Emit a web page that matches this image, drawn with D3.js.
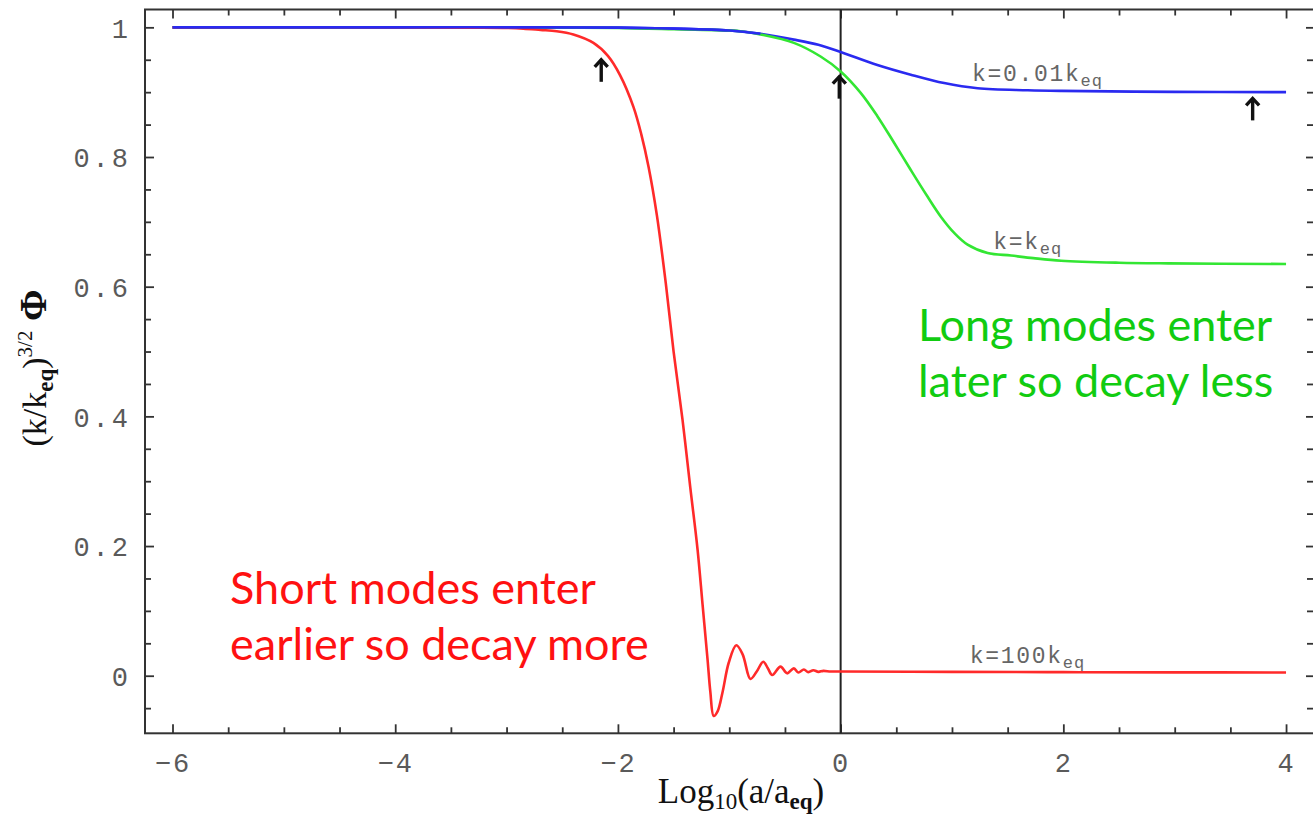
<!DOCTYPE html>
<html>
<head>
<meta charset="utf-8">
<script src="https://cdn.jsdelivr.net/npm/d3@7"></script>
<style>
  html, body { margin: 0; padding: 0; background: #fff; }
  svg { display: block; }
</style>
</head>
<body>
<svg id="chart" width="1313" height="819"></svg>
<script>
// Potential (k/k_eq)^{3/2} Φ versus log10(a/a_eq) for three wavenumbers
const logA_red = [-6, -4, -3.3, -3, -2.85, -2.695, -2.55, -2.40, -2.22, -2.09, -1.98, -1.86, -1.79, -1.725, -1.65, -1.57, -1.50, -1.42, -1.35, -1.285, -1.24, -1.195, -1.17, -1.14, -1.105, -1.06, -1.005, -0.937, -0.88, -0.81, -0.755, -0.695, -0.655, -0.614, -0.54, -0.48, -0.42, -0.38, -0.33, -0.29, -0.245, -0.20, -0.155, -0.09, 0, 1, 2, 3, 4];
const phi_red    = [1, 1, 0.9995, 0.999, 0.998, 0.996, 0.994, 0.989, 0.976, 0.956, 0.926, 0.877, 0.835, 0.785, 0.71, 0.605, 0.50, 0.395, 0.29, 0.195, 0.11, 0.025, -0.025, -0.062, -0.055, -0.025, 0.02, 0.047, 0.033, -0.005, 0.006, 0.0216, 0.012, 0.001, 0.014, 0.0037, 0.0114, 0.005, 0.0095, 0.0055, 0.0085, 0.006, 0.0075, 0.0065, 0.0065, 0.006, 0.0055, 0.0052, 0.005];

const logA_green = [-6, -4, -3, -2, -1.5, -0.9, -0.72, -0.42, -0.18, 0, 0.18, 0.33, 0.48, 0.63, 0.78, 0.90, 1.02, 1.14, 1.32, 1.53, 1.73, 1.98, 2.5, 2.94, 4];
const phi_green  = [1, 1, 1, 0.999, 0.997, 0.994, 0.989, 0.976, 0.955, 0.932, 0.899, 0.863, 0.822, 0.780, 0.739, 0.708, 0.683, 0.665, 0.652, 0.648, 0.644, 0.640, 0.637, 0.636, 0.635];

const logA_blue = [-6, -4, -3, -2, -1.5, -1, -0.72, -0.42, -0.2, 0, 0.33, 0.63, 0.93, 1.23, 1.68, 1.98, 3, 4];
const phi_blue  = [1, 1, 1, 0.9995, 0.998, 0.995, 0.990, 0.981, 0.973, 0.962, 0.942, 0.927, 0.914, 0.906, 0.903, 0.902, 0.9005, 0.900];

// Curve labels (baseline anchors) and horizon-entry markers
const curveLabels = ["k=0.01k", "k=k", "k=100k"];
const curveLabelX = [1.18, 1.37, 1.16];
const curveLabelY = [0.9167, 0.658, 0.020];
const arrowX = [-2.15, -0.012, 3.70];
const arrowY = [0.953, 0.927, 0.8935];

const xMajor = [-6, -4, -2, 0, 2, 4];
const xTickLabels = ["\u22126", "\u22124", "\u22122", "0", "2", "4"];
const yMajor = [0, 0.2, 0.4, 0.6, 0.8, 1];
const yTickLabels = ["0", "0.2", "0.4", "0.6", "0.8", "1"];

const svg = d3.select("#chart");
const plotLeft = 145, plotRight = 1315, plotTop = 9.5, plotBottom = 733.3;

const x = d3.scaleLinear().domain([-6.247, 4.26]).range([plotLeft, plotRight]);
const y = d3.scaleLinear().domain([-0.0888, 1.0275]).range([plotBottom, plotTop]);

const frameColor = "#333";
const tickFont = "'Liberation Mono', 'DejaVu Sans Mono', monospace";

// minor tick positions
const xMinor = d3.range(-6, 4.001, 0.5).filter(v => !xMajor.includes(v));
const yMinor = d3.range(-0.05, 1.0001, 0.05).map(v => +v.toFixed(2)).filter(v => !yMajor.some(m => Math.abs(m - v) < 1e-9));

function styleAxis(g) {
  g.select(".domain").remove();
  g.selectAll(".tick line").attr("stroke", frameColor).attr("stroke-width", 1.8);
}

// bottom axis with labels
const gx = svg.append("g").attr("transform", `translate(0,${plotBottom})`)
  .call(d3.axisBottom(x).tickValues(xMajor).tickSize(-9).tickPadding(20)
    .tickFormat((d, i) => xTickLabels[i]));
styleAxis(gx);
gx.selectAll(".tick text").attr("font-family", tickFont).attr("font-size", 27)
  .attr("fill", "#5a5a5a").attr("dy", "0.71em").attr("letter-spacing", 2);
svg.append("g").attr("transform", `translate(0,${plotBottom})`)
  .call(d3.axisBottom(x).tickValues(xMinor).tickSize(-6).tickFormat(""))
  .call(styleAxis);

// top axis ticks
svg.append("g").attr("transform", `translate(0,${plotTop})`)
  .call(d3.axisTop(x).tickValues(xMajor).tickSize(-9).tickFormat("")).call(styleAxis);
svg.append("g").attr("transform", `translate(0,${plotTop})`)
  .call(d3.axisTop(x).tickValues(xMinor).tickSize(-6).tickFormat("")).call(styleAxis);

// left axis with labels
const gy = svg.append("g").attr("transform", `translate(${plotLeft},0)`)
  .call(d3.axisLeft(y).tickValues(yMajor).tickSize(-9).tickPadding(14)
    .tickFormat((d, i) => yTickLabels[i]));
styleAxis(gy);
gy.selectAll(".tick text").attr("font-family", tickFont).attr("font-size", 27)
  .attr("fill", "#5a5a5a").attr("letter-spacing", 3).attr("dy", "0.36em");
svg.append("g").attr("transform", `translate(${plotLeft},0)`)
  .call(d3.axisLeft(y).tickValues(yMinor).tickSize(-6).tickFormat("")).call(styleAxis);

// right axis ticks
svg.append("g").attr("transform", `translate(${plotRight},0)`)
  .call(d3.axisRight(y).tickValues(yMajor).tickSize(-9).tickFormat("")).call(styleAxis);
svg.append("g").attr("transform", `translate(${plotRight},0)`)
  .call(d3.axisRight(y).tickValues(yMinor).tickSize(-8).tickFormat("")).call(styleAxis);

// frame
svg.append("rect").attr("x", plotLeft).attr("y", plotTop)
  .attr("width", plotRight - plotLeft).attr("height", plotBottom - plotTop)
  .attr("fill", "none").attr("stroke", frameColor).attr("stroke-width", 2);

// vertical line at matter-radiation equality
svg.append("line").attr("x1", x(0)).attr("x2", x(0)).attr("y1", plotTop).attr("y2", plotBottom)
  .attr("stroke", "#222").attr("stroke-width", 2);

// curves
const line = d3.line().x(d => x(d[0])).y(d => y(d[1])).curve(d3.curveCatmullRom.alpha(0.5));
const series = [
  { xs: logA_blue, ys: phi_blue, color: "#2a2af0" },
  { xs: logA_green, ys: phi_green, color: "#33e633" },
  { xs: logA_red, ys: phi_red, color: "#ff2a2a" }
];
series.forEach(s => {
  svg.append("path").datum(d3.zip(s.xs, s.ys))
    .attr("d", line).attr("fill", "none")
    .attr("stroke", s.color).attr("stroke-width", 2.6)
    .attr("stroke-linejoin", "round");
});
// blue drawn again on top where it overlaps green
svg.append("path").datum(d3.zip(logA_blue, phi_blue).filter(d => d[0] <= -0.6))
  .attr("d", line).attr("fill", "none").attr("stroke", "#2a2af0").attr("stroke-width", 2.6);

// curve labels
curveLabels.forEach((t, i) => {
  const txt = svg.append("text")
    .attr("x", x(curveLabelX[i])).attr("y", y(curveLabelY[i]))
    .attr("font-family", tickFont).attr("font-size", 23).attr("fill", "#666")
    .attr("letter-spacing", 1.7);
  txt.append("tspan").text(t);
  txt.append("tspan").attr("dy", 5).attr("font-size", 17).attr("letter-spacing", 1).text("eq");
});

// horizon-entry arrows
arrowX.forEach((ax, i) => {
  const px = x(ax), py = y(arrowY[i]);
  const g = svg.append("g").attr("stroke", "#111").attr("stroke-width", 3.4)
    .attr("fill", "none").attr("stroke-linecap", "butt").attr("stroke-linejoin", "miter");
  g.append("line").attr("x1", px).attr("x2", px).attr("y1", py + 2).attr("y2", py + 24);
  g.append("path").attr("d", `M${px - 6.5},${py + 9} L${px},${py + 2} L${px + 6.5},${py + 9}`);
});

// axis titles
const serif = "'Liberation Serif', 'Times New Roman', serif";
const xt = svg.append("text").attr("x", 741).attr("y", 803)
  .attr("text-anchor", "middle").attr("font-family", serif).attr("font-size", 35).attr("fill", "#111");
xt.append("tspan").text("Log");
xt.append("tspan").attr("dy", 6).attr("font-size", 23).text("10");
xt.append("tspan").attr("dy", -6).text("(a/a");
xt.append("tspan").attr("dy", 6).attr("font-size", 23).attr("font-weight", "bold").text("eq");
xt.append("tspan").attr("dy", -6).text(")");

const yt = svg.append("text").attr("transform", "translate(46,368) rotate(-90)")
  .attr("text-anchor", "middle").attr("font-family", serif).attr("font-size", 34).attr("fill", "#111");
yt.append("tspan").text("(k/k");
yt.append("tspan").attr("dy", 7).attr("font-size", 23).attr("font-weight", "bold").text("eq");
yt.append("tspan").attr("dy", -7).text(")");
yt.append("tspan").attr("dy", -14).attr("font-size", 21).text("3/2");
yt.append("tspan").attr("dy", 14).attr("font-weight", "bold").attr("font-size", 38).text(" \u03A6");

// annotations
const sans = "Lato, 'Open Sans', sans-serif";
const notes = [
  { lines: ["Long modes enter", "later so decay less"], x: 918, y: 341, color: "#11cc11" },
  { lines: ["Short modes enter", "earlier so decay more"], x: 230, y: 604, color: "#ff1111" }
];
notes.forEach(n => {
  n.lines.forEach((l, i) => {
    svg.append("text").attr("x", n.x).attr("y", n.y + i * 56)
      .attr("font-family", sans).attr("font-size", 45).attr("fill", n.color).text(l);
  });
});
</script>
</body>
</html>
